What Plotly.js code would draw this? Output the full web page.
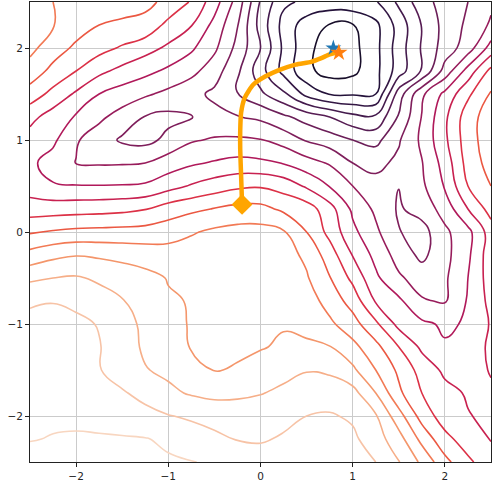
<!DOCTYPE html>
<html>
<head>
<meta charset="utf-8">
<script src="https://cdn.plot.ly/plotly-3.0.1.min.js"></script>
<style>
  html, body { margin: 0; padding: 0; background: #fff; }
  #chart { width: 493px; height: 484px; }
</style>
</head>
<body>
<div id="chart"></div>
<script>
// grid coordinates of the surface
var gridX = [-2.5, -2.25, -2, -1.75, -1.5, -1.25, -1, -0.75, -0.5, -0.25, 0, 0.25, 0.5, 0.75, 1, 1.25, 1.5, 1.75, 2, 2.25, 2.5];
var gridY = [-2.5, -2.25, -2, -1.75, -1.5, -1.25, -1, -0.75, -0.5, -0.25, 0, 0.25, 0.5, 0.75, 1, 1.25, 1.5, 1.75, 2, 2.25, 2.5];

// surface height (contour level units), one row per gridY value
var surface = [
  [17.25, 17.3, 17.35, 17.35, 17.35, 17.25, 17.1, 17.03, 16.9, 16.6, 16.45, 16.5, 16.7, 16.8, 16.6, 16.0, 15.05, 13.8, 12.3, 11.2, 10.4],
  [16.97, 17.03, 17.08, 17.1, 17.08, 17.04, 16.85, 16.5, 16.25, 15.95, 15.9, 16.1, 16.45, 16.45, 16.2, 15.45, 14.4, 12.7, 11.3, 10.5, 9.95],
  [16.9, 16.9, 16.85, 16.7, 16.55, 16.3, 16.05, 15.85, 15.6, 15.55, 15.6, 15.75, 16.0, 16.1, 15.85, 15.1, 13.4, 11.6, 10.5, 10.05, 9.8],
  [16.75, 16.8, 16.7, 16.4, 16.1, 15.7, 15.2, 14.9, 14.75, 14.8, 14.95, 15.2, 15.45, 15.5, 15.35, 14.0, 12.2, 11.0, 10.3, 9.9, 9.9],
  [16.6, 16.65, 16.55, 16.05, 15.55, 15.05, 14.8, 14.3, 13.97, 14.05, 14.3, 14.7, 14.95, 14.85, 14.2, 13.0, 11.8, 10.6, 9.8, 9.7, 10.05],
  [16.4, 16.45, 16.35, 16.05, 15.45, 14.85, 14.35, 13.95, 13.9, 13.9, 13.95, 14.1, 14.15, 14.05, 13.3, 12.3, 11.0, 9.8, 9.1, 9.4, 10.2],
  [16.15, 16.25, 16.2, 15.95, 15.35, 14.8, 14.2, 13.95, 13.92, 13.92, 13.93, 13.95, 13.75, 13.2, 12.4, 11.2, 9.7, 9.2, 8.85, 9.1, 10.1],
  [15.93, 15.97, 15.8, 15.4, 15.05, 14.65, 14.1, 13.95, 13.95, 13.95, 13.95, 13.95, 13.5, 12.6, 11.6, 9.9, 9.2, 8.1, 7.9, 9.1, 10.3],
  [14.8, 15.0, 15.1, 14.85, 14.6, 14.3, 13.95, 13.85, 13.8, 13.8, 13.75, 13.6, 13.1, 12.05, 10.75, 9.2, 8.15, 7.55, 7.85, 9.0, 10.5],
  [13.35, 13.75, 13.95, 13.85, 13.7, 13.55, 13.45, 13.5, 13.6, 13.65, 13.6, 13.4, 12.8, 11.5, 9.95, 8.7, 7.6, 6.75, 7.7, 8.8, 10.6],
  [11.9, 12.1, 12.25, 12.3, 12.35, 12.4, 12.55, 12.9, 13.2, 13.35, 13.35, 13.1, 12.0, 10.7, 9.25, 8.2, 7.05, 6.6, 7.8, 8.7, 10.5],
  [10.5, 10.55, 10.6, 10.65, 10.75, 10.95, 11.5, 11.8, 12.05, 12.3, 12.3, 11.8, 11.5, 10.4, 8.8, 7.8, 6.88, 7.4, 8.4, 10.0, 11.4],
  [9.5, 9.08, 9.05, 9.04, 9.06, 9.15, 9.6, 10.1, 10.5, 10.8, 10.9, 10.6, 9.85, 8.95, 8.0, 7.3, 7.02, 7.8, 9.1, 11.0, 12.0],
  [9.2, 8.6, 7.97, 7.9, 7.92, 8.0, 8.5, 8.85, 9.1, 9.3, 9.2, 8.95, 8.4, 7.9, 7.0, 6.75, 7.2, 7.95, 9.4, 11.4, 12.4],
  [9.6, 9.2, 8.1, 7.5, 6.85, 6.7, 7.25, 7.9, 8.1, 8.15, 8.05, 7.6, 6.9, 6.5, 6.0, 5.7, 6.9, 8.2, 9.8, 11.55, 12.6],
  [10.3, 9.55, 8.9, 8.2, 7.6, 6.95, 6.75, 6.98, 7.3, 7.05, 6.8, 6.2, 5.6, 5.0, 4.3, 4.2, 6.1, 8.05, 9.8, 11.55, 12.55],
  [11.55, 10.7, 9.85, 9.0, 8.55, 8.15, 7.75, 7.3, 6.8, 5.95, 5.2, 4.2, 2.7, 1.95, 1.9, 2.0, 5.5, 7.8, 9.25, 10.8, 12.1],
  [12.6, 11.7, 11.0, 10.25, 9.7, 9.28, 8.8, 8.3, 7.45, 6.2, 4.4, 2.7, 1.25, 0.6, 0.75, 1.7, 3.5, 5.1, 7.4, 9.4, 11.3],
  [13.25, 12.5, 11.8, 11.35, 10.88, 10.37, 9.82, 9.16, 8.2, 6.7, 5.0, 2.8, 1.3, 0.45, 0.7, 1.7, 3.5, 5.1, 6.45, 7.5, 9.4],
  [13.5, 13.05, 12.5, 12.0, 11.84, 11.75, 10.7, 10.05, 8.7, 7.05, 4.6, 2.65, 1.5, 0.95, 0.95, 1.75, 3.4, 5.05, 6.35, 7.2, 8.15],
  [13.4, 13.0, 12.8, 12.6, 12.4, 12.2, 11.8, 10.9, 9.45, 7.6, 4.9, 3.2, 2.8, 2.6, 2.7, 2.9, 4.2, 5.6, 6.4, 7.0, 7.8]
];

// contour levels 1..17, darkest first
var levelColors = ['#180e2a', '#24123a', '#331744', '#431a4c', '#561c53', '#6b1e58', '#7e1e5b', '#971c5b',
                   '#b0195a', '#c82150', '#dc3146', '#eb5842', '#f27a55', '#f4966b', '#f6ae88', '#f7c3a6', '#f8d6c0'];

// optimiser trajectory
var pathX = [-0.2, -0.21, -0.22, -0.22, -0.21, -0.17, -0.08, 0.05, 0.2, 0.38, 0.55, 0.66, 0.75, 0.84];
var pathY = [0.3, 0.6, 0.9, 1.1, 1.3, 1.46, 1.6, 1.69, 1.76, 1.82, 1.85, 1.89, 1.93, 1.95];
var startPoint = [-0.2, 0.3];
var trueMin = [0.79, 2.0];
var foundMin = [0.85, 1.95];

var tickVals = [-2, -1, 0, 1, 2];

var surfaceTrace = {
    type: 'contour',
    x: gridX,
    y: gridY,
    z: surface,
    autocontour: false,
    contours: { start: 1, end: 17, size: 1, coloring: 'lines' },
    colorscale: levelColors.map(function (c, i) { return [i / (levelColors.length - 1), c]; }),
    line: { width: 1.6, smoothing: 1.3 },
    showscale: false,
    hoverinfo: 'skip'
};

var pathTrace = {
    type: 'scatter',
    mode: 'lines',
    x: pathX,
    y: pathY,
    line: { color: '#ffa500', width: 4.5, shape: 'spline', smoothing: 0.6 },
    hoverinfo: 'skip'
};

var startTrace = {
    type: 'scatter',
    mode: 'markers',
    x: [startPoint[0]],
    y: [startPoint[1]],
    marker: { symbol: 'diamond', size: 16, color: '#ffa500' },
    hoverinfo: 'skip'
};

var trueMinTrace = {
    type: 'scatter',
    mode: 'markers',
    x: [trueMin[0]],
    y: [trueMin[1]],
    marker: { symbol: 'star', size: 12, color: '#1f77b4' },
    hoverinfo: 'skip'
};

var foundMinTrace = {
    type: 'scatter',
    mode: 'markers',
    x: [foundMin[0]],
    y: [foundMin[1]],
    marker: { symbol: 'star', size: 13, color: '#ff7f0e' },
    hoverinfo: 'skip'
};

var axisStyle = {
    range: [-2.5, 2.5],
    tickvals: tickVals,
    showgrid: true,
    gridcolor: '#cbcbcb',
    gridwidth: 1,
    zeroline: false,
    showline: true,
    mirror: true,
    linecolor: '#222',
    linewidth: 1,
    ticks: 'outside',
    ticklen: 4,
    tickwidth: 1,
    tickcolor: '#222',
    tickfont: { family: 'DejaVu Sans, sans-serif', size: 10.5, color: '#262626' },
    fixedrange: true
};

var layout = {
    width: 493,
    height: 484,
    margin: { l: 30, r: 2, t: 2, b: 22 },
    paper_bgcolor: '#ffffff',
    plot_bgcolor: '#ffffff',
    showlegend: false,
    xaxis: Object.assign({}, axisStyle),
    yaxis: Object.assign({}, axisStyle)
};

Plotly.newPlot('chart', [surfaceTrace, pathTrace, startTrace, trueMinTrace, foundMinTrace], layout, { staticPlot: true });
</script>
</body>
</html>
